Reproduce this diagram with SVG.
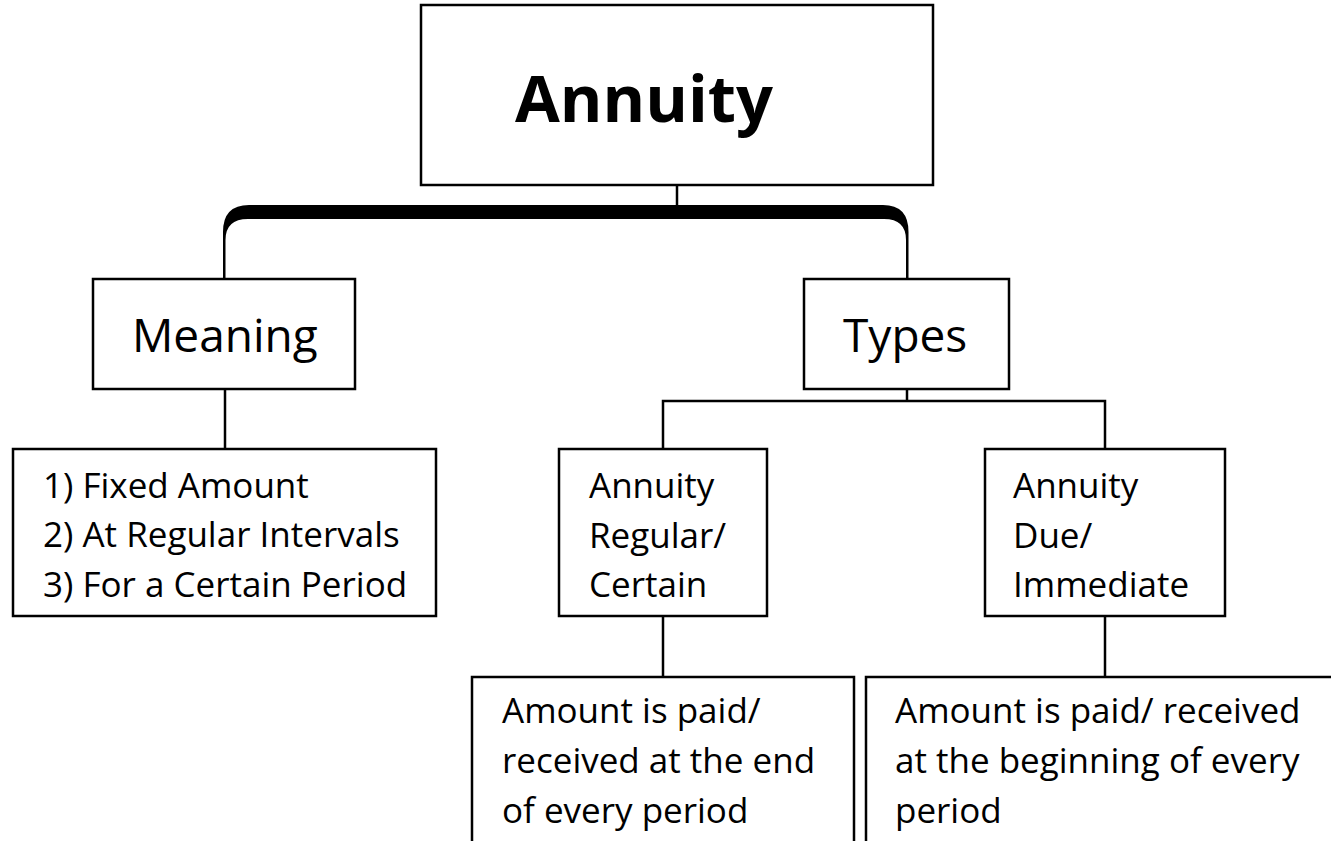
<svg xmlns="http://www.w3.org/2000/svg" width="1331" height="841" viewBox="0 0 1331 841">
<style>
.box{fill:#fff;stroke:#000;stroke-width:2.5}
.ln{fill:none;stroke:#000;stroke-width:2.5}
text{font-family:"Open Sans","Noto Sans","DejaVu Sans",sans-serif;fill:#000}
.t{font-size:35px}
.m{font-size:46px}
.h{font-size:65px;font-weight:bold}
</style>
<rect width="1331" height="841" fill="#fff"/>
<g id="connectors">
<line class="ln" x1="677" y1="185" x2="677" y2="206"/>
<path d="M223,279 L223,232 Q223,205 249,205 L883,205 Q908.5,205 908.5,232 L908.5,279 L906,279 L906,240 Q906,219 884,219 L248,219 Q225.5,219 225.5,240 L225.5,279 Z" fill="#000"/>
<line class="ln" x1="225" y1="389" x2="225" y2="449"/>
<line class="ln" x1="907" y1="389" x2="907" y2="401"/>
<polyline class="ln" points="663,449 663,401 1105,401 1105,449"/>
<line class="ln" x1="663" y1="616" x2="663" y2="677"/>
<line class="ln" x1="1105" y1="616" x2="1105" y2="677"/>
</g>
<g id="annuity">
<rect class="box" x="421" y="5" width="512" height="180"/>
<text class="h" x="515" y="122">Annuity</text>
</g>
<g id="meaning">
<rect class="box" x="93" y="279" width="262" height="110"/>
<text class="m" x="132" y="352">Meaning</text>
</g>
<g id="types">
<rect class="box" x="804" y="279" width="205" height="110"/>
<text class="m" x="843" y="352">Types</text>
</g>
<g id="meaning-list">
<rect class="box" x="13" y="449" width="423" height="167"/>
<text class="t" x="43" y="498">1) Fixed Amount</text>
<text class="t" x="43" y="547">2) At Regular Intervals</text>
<text class="t" x="43" y="597">3) For a Certain Period</text>
</g>
<g id="annuity-regular">
<rect class="box" x="559" y="449" width="208" height="167"/>
<text class="t" x="589" y="498">Annuity</text>
<text class="t" x="589" y="548">Regular/</text>
<text class="t" x="589" y="597">Certain</text>
</g>
<g id="annuity-due">
<rect class="box" x="985" y="449" width="240" height="167"/>
<text class="t" x="1013" y="498">Annuity</text>
<text class="t" x="1013" y="548">Due/</text>
<text class="t" x="1013" y="597">Immediate</text>
</g>
<g id="regular-desc">
<rect class="box" x="472" y="677" width="382" height="180"/>
<text class="t" x="502" y="723">Amount is paid/</text>
<text class="t" x="502" y="773">received at the end</text>
<text class="t" x="502" y="823">of every period</text>
</g>
<g id="due-desc">
<rect class="box" x="866" y="677" width="480" height="180"/>
<text class="t" x="895" y="723">Amount is paid/ received</text>
<text class="t" x="895" y="773">at the beginning of every</text>
<text class="t" x="895" y="823">period</text>
</g>
</svg>
